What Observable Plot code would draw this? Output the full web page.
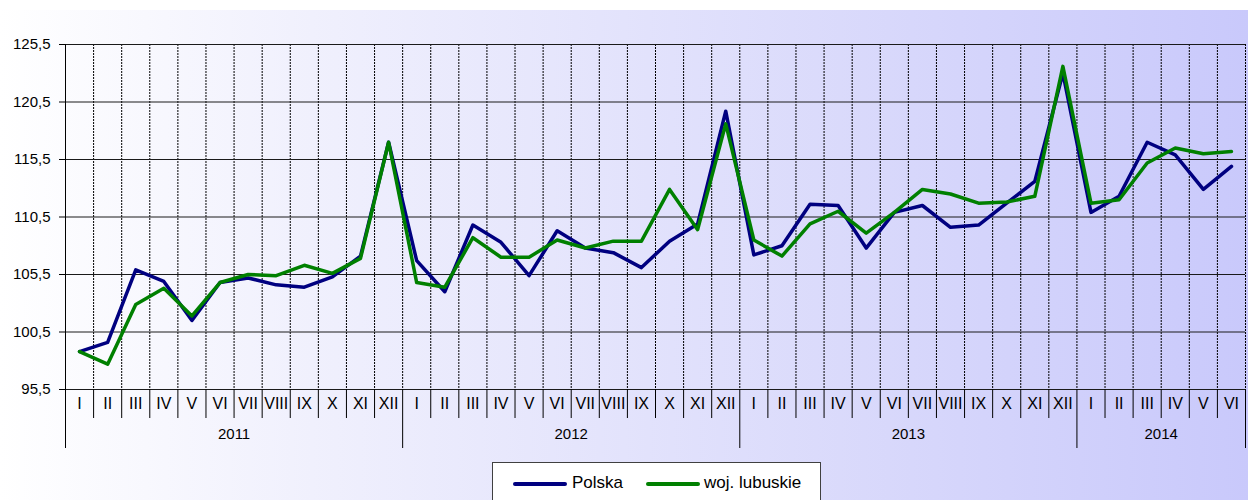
<!DOCTYPE html>
<html><head><meta charset="utf-8">
<script src="https://cdn.jsdelivr.net/npm/d3@7"></script>
<script src="https://cdn.jsdelivr.net/npm/@observablehq/plot@0.6"></script>
<style>
body{margin:0;background:#fff;font-family:"Liberation Sans",Arial,sans-serif;}
#wrap{position:relative;width:1248px;height:500px;overflow:hidden;}
#bg{position:absolute;left:0;top:10px;right:0;bottom:0;background:linear-gradient(to right,#ffffff 0%,#f0f0fd 25%,#e3e3fc 50%,#d6d6fb 75%,#c9c9fb 100%);}
#chart{position:absolute;left:0;top:0;}
#legend{position:absolute;left:492px;top:462px;width:327px;height:60px;border:1px solid #404040;background:#fff;font-size:17px;color:#000;}
#legend .ln{position:absolute;top:19px;width:54px;height:4px;border-radius:2px;}
#legend .tx{position:absolute;top:10px;line-height:20px;}
</style></head>
<body>
<div id="wrap"><div id="bg"></div><div id="chart"></div>
<div id="legend"></div></div>
<script>
const months = ["I","II","III","IV","V","VI","VII","VIII","IX","X","XI","XII"];
const years = ["2011","2012","2013","2014"];
const monthsPerYear = [12,12,12,6];
const yTicks = [95.5,100.5,105.5,110.5,115.5,120.5,125.5];
const seriesNames = ["Polska","woj. lubuskie"];
const seriesColors = ["#000080","#008000"];
const polska = [98.8, 99.6, 105.9, 104.9, 101.5, 104.8, 105.2, 104.6, 104.4, 105.3, 107.1, 117.0,
 106.7, 104.0, 109.8, 108.3, 105.4, 109.3, 107.8, 107.4, 106.1, 108.4, 109.9, 119.7,
 107.2, 108.0, 111.6, 111.5, 107.8, 110.9, 111.5, 109.6, 109.8, 111.7, 113.6, 123.0,
 110.9, 112.3, 117.0, 115.9, 112.9, 114.9];
const lubuskie = [98.8, 97.7, 102.9, 104.3, 101.9, 104.8, 105.5, 105.4, 106.3, 105.6, 106.9, 117.0,
 104.8, 104.4, 108.7, 107.0, 107.0, 108.5, 107.8, 108.4, 108.4, 112.9, 109.4, 118.6,
 108.5, 107.1, 109.9, 111.0, 109.1, 110.9, 112.9, 112.5, 111.7, 111.8, 112.3, 123.6,
 111.7, 112.0, 115.2, 116.5, 116.0, 116.2];

const periodMonths = years.flatMap((y,k) => months.slice(0, monthsPerYear[k]));
const n = periodMonths.length;
const rows = periodMonths.map((m,i) => ({i, month:m, polska:polska[i], lubuskie:lubuskie[i]}));
let start = 0;
const yearRows = years.map((y,k) => { const r = {year:y, start, end:start+monthsPerYear[k]-1, mid:start+(monthsPerYear[k]-1)/2}; start += monthsPerYear[k]; return r; });
const boundaries = d3.range(n).map(i => i + 0.5);
const yearBoundaries = [-0.5, ...yearRows.map(r => r.end + 0.5)];
const monthBoundaries = boundaries.filter(b => !yearBoundaries.includes(b));
const fmt = d => String(d).replace(".", ",");

const chart = Plot.plot({
  width:1248, height:500,
  marginTop:44, marginBottom:111, marginLeft:65, marginRight:3,
  style:{background:"transparent", fontFamily:"'Liberation Sans', Arial, sans-serif", color:"#000", overflow:"visible"},
  x:{type:"linear", domain:[-0.5, n-0.5]},
  y:{domain:[yTicks[0], yTicks[yTicks.length-1]]},
  marks:[
    Plot.ruleX(boundaries, {stroke:"#000", strokeDasharray:"2,1", strokeWidth:1}),
    Plot.ruleY(yTicks, {stroke:"#1a1a1a", strokeWidth:1}),
    Plot.ruleX([-0.5], {stroke:"#000", strokeWidth:1}),
    Plot.axisY(yTicks, {tickSize:6, tickPadding:9, tickFormat:fmt, fontSize:15, label:null}),
    Plot.axisX(monthBoundaries, {tickSize:29, tickFormat:() => "", label:null}),
    Plot.axisX(yearBoundaries, {tickSize:59, tickFormat:() => "", label:null}),
    Plot.text(rows, {x:"i", text:"month", frameAnchor:"bottom", dy:19, fontSize:16}),
    Plot.text(yearRows, {x:"mid", text:"year", frameAnchor:"bottom", dy:49, fontSize:15}),
    Plot.line(rows, {x:"i", y:"polska", stroke:seriesColors[0], strokeWidth:3.5, strokeLinejoin:"round"}),
    Plot.line(rows, {x:"i", y:"lubuskie", stroke:seriesColors[1], strokeWidth:3.5, strokeLinejoin:"round"})
  ]
});
document.getElementById("chart").appendChild(chart);

const leg = document.getElementById("legend");
const pos = [[20,79],[153,211]];
seriesNames.forEach((name,k) => {
  const l = document.createElement("div"); l.className = "ln"; l.style.left = pos[k][0]+"px"; l.style.background = seriesColors[k];
  const t = document.createElement("div"); t.className = "tx"; t.style.left = pos[k][1]+"px"; t.textContent = name;
  leg.appendChild(l); leg.appendChild(t);
});
</script>
</body></html>
